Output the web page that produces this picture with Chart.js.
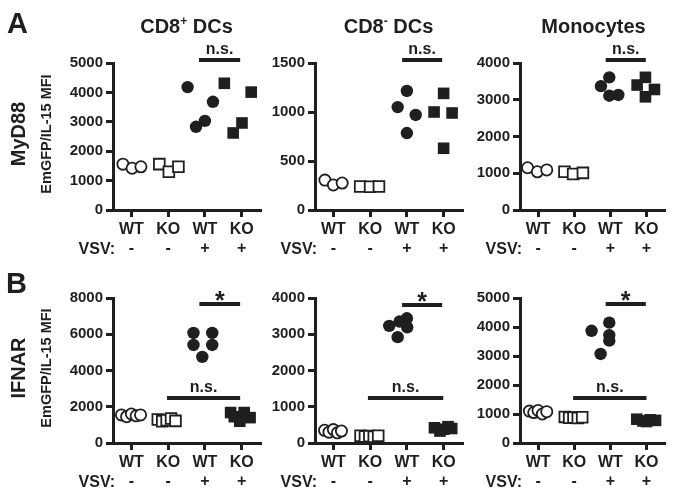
<!DOCTYPE html>
<html><head><meta charset="utf-8">
<script src="https://cdn.jsdelivr.net/npm/chart.js@4.4.1/dist/chart.umd.min.js"></script>
<style>
html,body{margin:0;padding:0;background:#fff;}
#wrap{position:relative;width:674px;height:494px;overflow:hidden;font-family:"Liberation Sans",Arial,Helvetica,sans-serif;font-weight:bold;color:#1f1f1f;}
canvas{position:absolute;left:0;top:0;}
.t{position:absolute;white-space:nowrap;}
</style></head><body><div id="wrap"></div>
<script>
// ---------- data ----------
const CATEGORIES = ['WT', 'KO', 'WT', 'KO'];
const VSV = ['-', '-', '+', '+'];
const COLUMN_TITLES = ['CD8', 'CD8', 'Monocytes'];
const ROW_TITLES = ['MyD88', 'IFNAR'];
const Y_TITLE = 'EmGFP/IL-15 MFI';

// y tick values per panel
const A1_TICKS = [0, 1000, 2000, 3000, 4000, 5000];
const A2_TICKS = [0, 500, 1000, 1500];
const A3_TICKS = [0, 1000, 2000, 3000, 4000];
const B1_TICKS = [0, 2000, 4000, 6000, 8000];
const B2_TICKS = [0, 1000, 2000, 3000, 4000];
const B3_TICKS = [0, 1000, 2000, 3000, 4000, 5000];

// Panel A1: MyD88, CD8+ DCs  (values, and horizontal jitter within group)
const A1_WT_NEG = [1560, 1420, 1470];       const A1_WT_NEG_J = [-0.23, 0.02, 0.26];
const A1_KO_NEG = [1560, 1300, 1470];       const A1_KO_NEG_J = [-0.24, 0.02, 0.28];
const A1_WT_POS = [4180, 2830, 3030, 3680]; const A1_WT_POS_J = [-0.47, -0.24, 0.0, 0.22];
const A1_KO_POS = [4310, 2620, 2960, 4010]; const A1_KO_POS_J = [-0.47, -0.23, 0.01, 0.26];
// Panel A2: MyD88, CD8- DCs
const A2_WT_NEG = [305, 255, 275];          const A2_WT_NEG_J = [-0.23, 0.0, 0.24];
const A2_KO_NEG = [240, 238, 240];          const A2_KO_NEG_J = [-0.27, 0.0, 0.24];
const A2_WT_POS = [1050, 1215, 970, 785];   const A2_WT_POS_J = [-0.25, 0.0, 0.24, 0.0];
const A2_KO_POS = [1000, 1190, 990, 630];   const A2_KO_POS_J = [-0.26, 0.0, 0.23, 0.0];
// Panel A3: MyD88, Monocytes
const A3_WT_NEG = [1150, 1040, 1090];       const A3_WT_NEG_J = [-0.29, -0.02, 0.24];
const A3_KO_NEG = [1040, 980, 1010];        const A3_KO_NEG_J = [-0.27, -0.03, 0.24];
const A3_WT_POS = [3370, 3610, 3110, 3130]; const A3_WT_POS_J = [-0.26, -0.03, -0.03, 0.22];
const A3_KO_POS = [3400, 3610, 3280, 3080]; const A3_KO_POS_J = [-0.26, -0.03, 0.22, -0.03];
// Panel B1: IFNAR, CD8+ DCs
const B1_WT_NEG = [1550, 1450, 1600, 1500, 1550];  const B1_WT_NEG_J = [-0.27, -0.13, 0.0, 0.13, 0.25];
const B1_KO_NEG = [1300, 1200, 1250, 1350, 1220];  const B1_KO_NEG_J = [-0.28, -0.16, -0.04, 0.08, 0.2];
const B1_WT_POS = [6070, 6070, 5410, 5410, 4750];  const B1_WT_POS_J = [-0.31, 0.2, -0.31, 0.2, -0.07];
const B1_KO_POS = [1680, 1680, 1400, 1200, 1450];  const B1_KO_POS_J = [-0.3, 0.07, 0.23, -0.05, -0.2];
// Panel B2: IFNAR, CD8- DCs
const B2_WT_NEG = [350, 300, 370, 280, 330];       const B2_WT_NEG_J = [-0.24, -0.12, 0.0, 0.11, 0.22];
const B2_KO_NEG = [200, 180, 190, 170, 200];       const B2_KO_NEG_J = [-0.26, -0.14, -0.02, 0.1, 0.22];
const B2_WT_POS = [3230, 2920, 3440, 3190, 3350];  const B2_WT_POS_J = [-0.48, -0.25, 0.0, 0.01, -0.2];
const B2_KO_POS = [420, 380, 400, 330, 450];       const B2_KO_POS_J = [-0.25, 0.0, 0.22, -0.1, 0.12];
// Panel B3: IFNAR, Monocytes
const B3_WT_NEG = [1100, 1050, 1120, 1000, 1080];  const B3_WT_NEG_J = [-0.24, -0.12, 0.0, 0.12, 0.24];
const B3_KO_NEG = [900, 870, 880, 860, 890];       const B3_KO_NEG_J = [-0.26, -0.14, -0.02, 0.1, 0.22];
const B3_WT_POS = [3870, 4150, 3720, 3530, 3070];  const B3_WT_POS_J = [-0.52, -0.03, -0.03, -0.03, -0.27];
const B3_KO_POS = [820, 760, 800, 780, 740];       const B3_KO_POS_J = [-0.27, -0.1, 0.1, 0.25, 0.0];

// significance bars: [from, to, y, label]
const A1_SIG = [[2.84, 3.96, 5100, 'n.s.']];
const A2_SIG = [[2.87, 3.96, 1530, 'n.s.']];
const A3_SIG = [[2.87, 3.98, 4080, 'n.s.']];
const B1_SIG = [[2.85, 3.96, 7670, '*'], [1.97, 3.96, 2480, 'n.s.']];
const B2_SIG = [[2.87, 3.96, 3810, '*'], [1.94, 3.99, 1240, 'n.s.']];
const B3_SIG = [[2.87, 3.98, 4790, '*'], [1.97, 4.0, 1550, 'n.s.']];

// ---------- drawing ----------
const INK = '#1f1f1f';
const FONT = '"Liberation Sans", Arial, Helvetica, sans-serif';
const W = 674, H = 494, YW = 60, XH = 50;
const wrap = document.getElementById('wrap');

const sigPlugin = {
  id: 'sig',
  afterDatasetsDraw(chart, args, opts) {
    const ctx = chart.ctx, x = chart.scales.x, y = chart.scales.y;
    (opts.bars || []).forEach(([from, to, val, label]) => {
      const x1 = x.getPixelForValue(from), x2 = x.getPixelForValue(to), py = y.getPixelForValue(val);
      ctx.save();
      ctx.strokeStyle = INK; ctx.lineWidth = 4; ctx.lineCap = 'butt';
      ctx.beginPath(); ctx.moveTo(x1, py); ctx.lineTo(x2, py); ctx.stroke();
      ctx.fillStyle = INK; ctx.textAlign = 'center'; ctx.textBaseline = 'alphabetic';
      if (label === '*') { ctx.font = 'bold 25px ' + FONT; ctx.fillText(label, (x1 + x2) / 2, py + 5); }
      else { ctx.font = 'bold 16px ' + FONT; ctx.fillText(label, (x1 + x2) / 2, py - 6.5); }
      ctx.restore();
    });
  }
};

function group(idx, vals, jit) { return vals.map((v, i) => ({ x: idx + jit[i], y: v })); }

function makePanel(area, ticks, groups, sig) {
  const [L, T, R, B] = area;
  const cv = document.createElement('canvas');
  cv.width = W; cv.height = H; cv.style.width = W + 'px'; cv.style.height = H + 'px';
  wrap.appendChild(cv);
  const styles = [
    { pointStyle: 'circle', radius: 5.6, fill: '#fff', bw: 1.8 },
    { pointStyle: 'rect', radius: 7.6, fill: '#fff', bw: 1.8 },
    { pointStyle: 'circle', radius: 6.2, fill: INK, bw: 0 },
    { pointStyle: 'rect', radius: 8.2, fill: INK, bw: 0 }
  ];
  const datasets = groups.map((g, i) => ({
    data: group(i + 1, g[0], g[1]),
    pointStyle: styles[i].pointStyle,
    pointRadius: styles[i].radius,
    pointBackgroundColor: styles[i].fill,
    pointBorderColor: INK,
    pointBorderWidth: styles[i].bw,
    showLine: false,
    clip: false
  }));
  const axisGrid = { display: true, drawOnChartArea: false, drawTicks: true, tickLength: 7, color: INK, lineWidth: 3 };
  const axisBorder = { display: true, color: INK, width: 3 };
  new Chart(cv, {
    type: 'scatter',
    data: { datasets },
    plugins: [sigPlugin],
    options: {
      responsive: false, animation: false, devicePixelRatio: 1,
      layout: { padding: { left: L - YW, top: T, right: W - R, bottom: H - B - XH } },
      plugins: { legend: { display: false }, tooltip: { enabled: false }, sig: { bars: sig } },
      scales: {
        x: {
          type: 'linear', min: 0.5, max: 4.5,
          afterBuildTicks: s => { s.ticks = CATEGORIES.map((c, i) => ({ value: i + 1 })); },
          afterFit: s => { s.height = XH; },
          ticks: {
            callback: (v, i) => [CATEGORIES[i], VSV[i]],
            font: { family: FONT, size: 16, weight: 'bold', lineHeight: 1.2 },
            color: INK, padding: 3, maxRotation: 0, autoSkip: false
          },
          grid: axisGrid, border: axisBorder
        },
        y: {
          type: 'linear', min: ticks[0], max: ticks[ticks.length - 1],
          afterBuildTicks: s => { s.ticks = ticks.map(v => ({ value: v })); },
          afterFit: s => { s.width = YW; },
          ticks: {
            callback: v => String(v),
            font: { family: FONT, size: 15, weight: 'bold' }, color: INK, padding: 3
          },
          grid: axisGrid, border: axisBorder
        }
      }
    }
  });
}

const COLS = [113, 315, 520];
const PW = 147;
const ROWS = [[63, 210], [298, 443]];

makePanel([COLS[0], ROWS[0][0], COLS[0] + PW, ROWS[0][1]], A1_TICKS,
  [[A1_WT_NEG, A1_WT_NEG_J], [A1_KO_NEG, A1_KO_NEG_J], [A1_WT_POS, A1_WT_POS_J], [A1_KO_POS, A1_KO_POS_J]], A1_SIG);
makePanel([COLS[1], ROWS[0][0], COLS[1] + PW, ROWS[0][1]], A2_TICKS,
  [[A2_WT_NEG, A2_WT_NEG_J], [A2_KO_NEG, A2_KO_NEG_J], [A2_WT_POS, A2_WT_POS_J], [A2_KO_POS, A2_KO_POS_J]], A2_SIG);
makePanel([COLS[2], ROWS[0][0], COLS[2] + PW, ROWS[0][1]], A3_TICKS,
  [[A3_WT_NEG, A3_WT_NEG_J], [A3_KO_NEG, A3_KO_NEG_J], [A3_WT_POS, A3_WT_POS_J], [A3_KO_POS, A3_KO_POS_J]], A3_SIG);
makePanel([COLS[0], ROWS[1][0], COLS[0] + PW, ROWS[1][1]], B1_TICKS,
  [[B1_WT_NEG, B1_WT_NEG_J], [B1_KO_NEG, B1_KO_NEG_J], [B1_WT_POS, B1_WT_POS_J], [B1_KO_POS, B1_KO_POS_J]], B1_SIG);
makePanel([COLS[1], ROWS[1][0], COLS[1] + PW, ROWS[1][1]], B2_TICKS,
  [[B2_WT_NEG, B2_WT_NEG_J], [B2_KO_NEG, B2_KO_NEG_J], [B2_WT_POS, B2_WT_POS_J], [B2_KO_POS, B2_KO_POS_J]], B2_SIG);
makePanel([COLS[2], ROWS[1][0], COLS[2] + PW, ROWS[1][1]], B3_TICKS,
  [[B3_WT_NEG, B3_WT_NEG_J], [B3_KO_NEG, B3_KO_NEG_J], [B3_WT_POS, B3_WT_POS_J], [B3_KO_POS, B3_KO_POS_J]], B3_SIG);

// ---------- text ----------
function addText(html, style) {
  const d = document.createElement('div');
  d.className = 't'; d.innerHTML = html;
  Object.assign(d.style, style);
  wrap.appendChild(d);
}
// column titles
const SUPS = ['+', '-', ''];
COLS.forEach((L, i) => {
  const sup = SUPS[i] ? '<span style="font-size:12px;position:relative;top:-8px;">' + SUPS[i] + '</span>' : '';
  const txt = i < 2 ? COLUMN_TITLES[i] + sup + ' DCs' : COLUMN_TITLES[i];
  addText(txt, { left: (L + PW / 2) + 'px', top: '16px', fontSize: '20px', lineHeight: '20px', transform: 'translateX(-50%)' });
});
// panel letters
addText('A', { left: '7px', top: '9px', fontSize: '29px', lineHeight: '28px' });
addText('B', { left: '6px', top: '269px', fontSize: '29px', lineHeight: '28px' });
// row titles and y titles
ROWS.forEach(([T, B], r) => {
  const cy = (T + B) / 2 - 3;
  addText(ROW_TITLES[r], { left: '18px', top: cy + 'px', fontSize: '20px', lineHeight: '20px', transform: 'translate(-50%,-50%) rotate(-90deg)' });
  addText(Y_TITLE, { left: '46px', top: cy + 'px', fontSize: '14.5px', lineHeight: '15px', transform: 'translate(-50%,-50%) rotate(-90deg)' });
  COLS.forEach(L => {
    addText('VSV:', { left: (L + 2) + 'px', top: (B + 29.2) + 'px', fontSize: '16px', lineHeight: '19.2px', transform: 'translateX(-100%)' });
  });
});
</script>
</body></html>
